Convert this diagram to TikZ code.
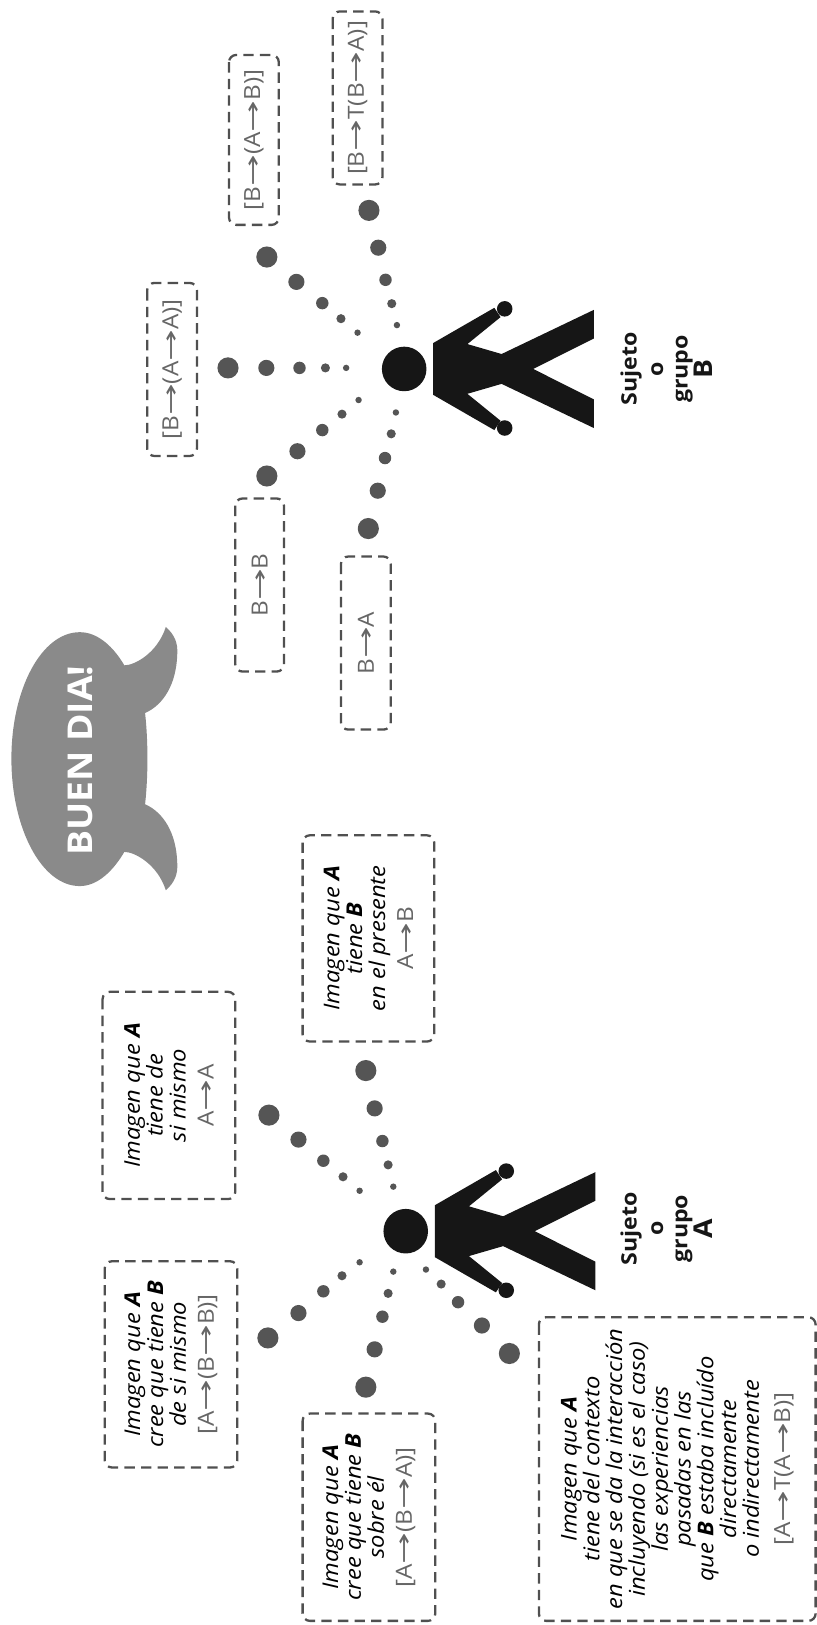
\documentclass[tikz,border=0pt]{standalone}
\usepackage{fontspec}
\setmainfont[FakeStretch=1.09]{Open Sans}
\newfontfamily\arrowfont[FakeStretch=1.7]{DejaVu Sans}
\newcommand{\ar}{{\arrowfont\upshape\mdseries →}}
\definecolor{dotgray}{HTML}{555555}
\definecolor{boxgray}{HTML}{505050}
\definecolor{formgray}{HTML}{666666}
\definecolor{bubblegray}{HTML}{8A8A8A}
\definecolor{figblack}{HTML}{161616}
\newcommand{\form}[1]{{\fontsize{21.5}{22}\selectfont\color{formgray}\upshape\mdseries #1}}
\tikzset{
  x=1pt,y=1pt,
  infobox/.style={draw=boxgray,line width=2.2pt,dash pattern=on 10pt off 6pt,rounded corners=7pt,rotate=90,align=center,inner sep=0pt,font=\fontsize{21}{22}\selectfont\itshape\mdseries},
  subjectlabel/.style={rotate=90,align=center,text=figblack,font=\fontsize{20.5}{22.5}\selectfont\bfseries},
  person/.pic={
    \fill[figblack] (0,0) circle (21.5pt);
    \fill[figblack] (28,25) -- (87,59) -- (93,50) -- (61,24) -- (94,14.4) -- (183,57) -- (183,29.4) -- (124.5,0) -- (183,-29.4) -- (183,-57) -- (94,-14.4) -- (61,-24) -- (93,-50) -- (87,-59) -- (28,-25) -- cycle;
    \fill[figblack] (97,58) circle (7.5pt);
    \fill[figblack] (97,-57) circle (7.5pt);
  }
}
\begin{document}
\begin{tikzpicture}
\useasboundingbox (0,0) rectangle (788.3,-1568);
% speech bubble
\fill[bubblegray] (11,-732) .. controls (11,-665) and (40,-610) .. (77,-610)
  .. controls (95,-610) and (110,-625) .. (120,-642)
  .. controls (130,-642) and (152,-630) .. (160,-605)
  .. controls (168,-612) and (172,-620) .. (171,-632)
  .. controls (170,-660) and (158,-680) .. (140,-688)
  .. controls (143,-715) and (143,-749) .. (140,-776)
  .. controls (158,-784) and (170,-804) .. (171,-832)
  .. controls (172,-844) and (168,-852) .. (160,-859)
  .. controls (152,-834) and (130,-822) .. (120,-822)
  .. controls (110,-839) and (95,-855) .. (77,-855)
  .. controls (40,-855) and (11,-799) .. (11,-732) -- cycle;
\node[rotate=90,text=white,font=\fontsize{33}{34}\selectfont\bfseries] (hello) at (78,-734) {BUEN DIA!};
% figures
\pic at (390,-356) {person};
\pic at (391.5,-1188) {person};
% dots
\foreach \xa/\ya/\xb/\yb/\xc/\yc/\xd/\yd/\xe/\ye in {
  345/321/329/307.5/311/292.5/286/272/257.5/248,
  334/355/314/355/289/355/257/355/220/355,
  346/386/330/399.6/311/415/287/435.4/257.5/459.3,
  383/313.7/378/293/372/270/365/239/356/203,
  382/398/377.5/418.6/371.5/442/364.5/473.5/355.4/510,
  347/1149/331/1135.5/312/1120/288/1099.6/259.5/1076,
  347/1218/330/1231/312/1246/288/1267/258.5/1291,
  379.5/1145/374.5/1124/369/1101/361.5/1069.5/353/1033,
  379.5/1227/374.5/1248/369/1270.5/361.5/1302/353/1338.5,
  411/1225/425.7/1239/442/1256.5/465/1279/491.5/1306}{
  \fill[dotgray] (\xa,-\ya) circle (3.1pt);
  \fill[dotgray] (\xb,-\yb) circle (4.4pt);
  \fill[dotgray] (\xc,-\yc) circle (6pt);
  \fill[dotgray] (\xd,-\yd) circle (7.8pt);
  \fill[dotgray] (\xe,-\ye) circle (10.2pt);
}
% boxes of B
\node[infobox,minimum width=167pt,minimum height=48pt] (bAA) at (166,-356.5) {\form{[B\ar(A\ar A)]}};
\node[infobox,minimum width=164pt,minimum height=48pt] (bAB) at (245,-135) {\form{[B\ar(A\ar B)]}};
\node[infobox,minimum width=167pt,minimum height=48pt] (bTBA) at (345,-94.5) {\form{[B\ar T(B\ar A)]}};
\node[infobox,minimum width=167pt,minimum height=47pt] (bB) at (250.5,-564.5) {\form{B\ar B}};
\node[infobox,minimum width=167pt,minimum height=48pt] (bA) at (353,-620.5) {\form{B\ar A}};
% boxes of A
\node[infobox,minimum width=199pt,minimum height=127pt] (aB) at (355.5,-905.5) {Imagen que \textbf{A}\\tiene \textbf{B}\\en el presente\\[5pt]\form{A\ar B}};
\node[infobox,minimum width=200pt,minimum height=128pt] (aA) at (163,-1057) {Imagen que \textbf{A}\\tiene de\\si mismo\\[5pt]\form{A\ar A}};
\node[infobox,minimum width=199pt,minimum height=128pt] (aBB) at (165,-1316.5) {Imagen que \textbf{A}\\cree que tiene \textbf{B}\\de si mismo\\[5pt]\form{[A\ar(B\ar B)]}};
\node[infobox,minimum width=200pt,minimum height=128pt] (aBA) at (356,-1464) {Imagen que \textbf{A}\\cree que tiene \textbf{B}\\sobre él\\[5pt]\form{[A\ar(B\ar A)]}};
\node[infobox,minimum width=293pt,minimum height=267pt] (aT) at (653.5,-1417.5) {Imagen que \textbf{A}\\tiene del contexto\\en que se da la interacción\\incluyendo (si es el caso)\\las experiencias\\pasadas en las\\que \textbf{B} estaba incluído\\directamente\\o indirectamente\\[8pt]\form{[A\ar T(A\ar B)]}};
% labels
\node[subjectlabel] (labB) at (643,-356) {Sujeto\\[3pt]o\\[1pt]grupo\\\fontsize{25}{22}\selectfont B};
\node[subjectlabel] (labA) at (643,-1185.5) {Sujeto\\[3pt]o\\[1pt]grupo\\\fontsize{25}{22}\selectfont A};
\end{tikzpicture}
\end{document}
